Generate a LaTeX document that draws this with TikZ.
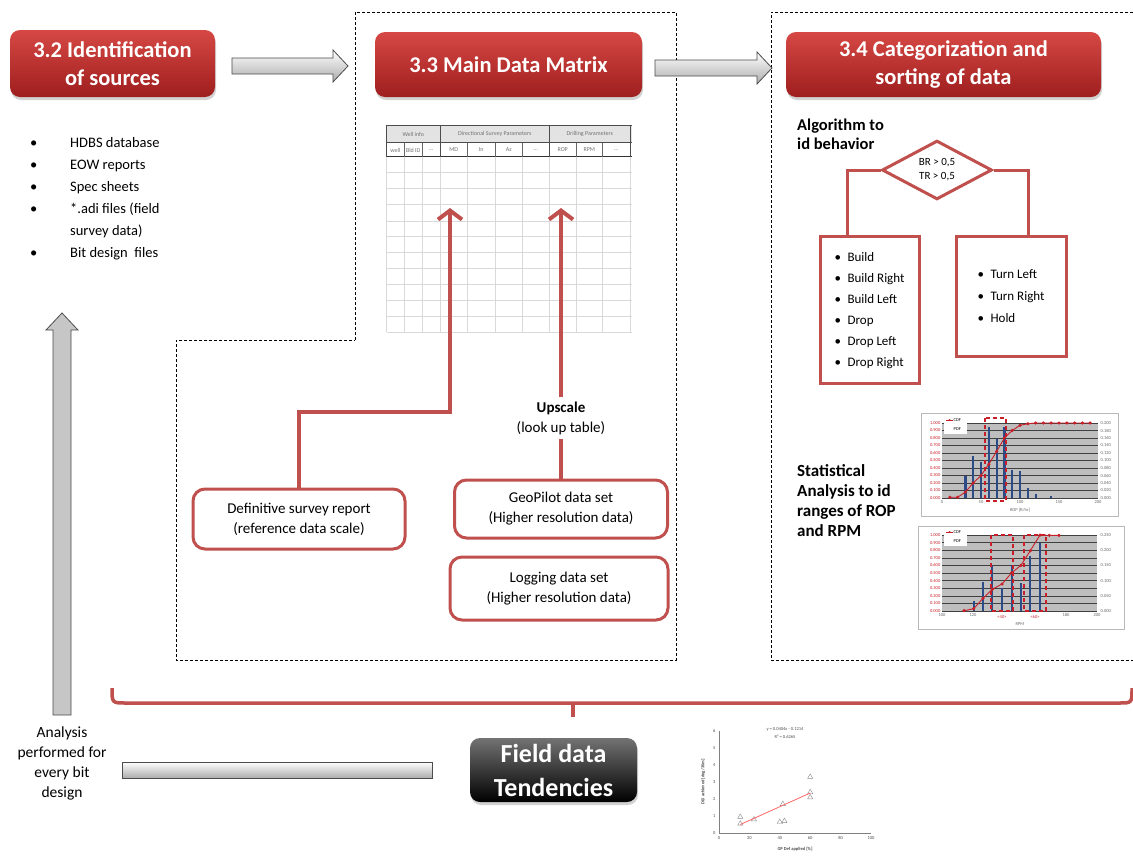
\documentclass[tikz,border=0pt]{standalone}
\usepackage{fontspec}
\setmainfont{Carlito}
\usetikzlibrary{arrows.meta,shapes.geometric,shadows}
\definecolor{rl}{RGB}{192,80,77}
\definecolor{rtop}{RGB}{214,72,68}
\definecolor{rbot}{RGB}{158,30,30}
\definecolor{barblue}{RGB}{45,75,135}
\definecolor{plotgray}{RGB}{190,190,190}
\definecolor{cdfred}{RGB}{200,30,40}
\newcommand{\myfs}[2]{\fontsize{#1}{#2}\selectfont}
\tikzset{
  titlebox/.style={rounded corners=10pt, top color=rtop, bottom color=rbot, text=white, font=\bfseries\myfs{22.5}{28}, align=center, inner sep=0pt, drop shadow={shadow xshift=1pt,shadow yshift=-3pt,opacity=0.35}},
  blackbox/.style={rounded corners=10pt, top color=black!55, middle color=black, bottom color=black, text=white, font=\bfseries\myfs{26}{34}, align=center, inner sep=0pt, drop shadow={shadow xshift=1pt,shadow yshift=-3pt,opacity=0.35}},
  redbox/.style={draw=rl, line width=3pt, rounded corners=12pt, fill=white, align=center, font=\myfs{15}{20}, inner sep=0pt},
  listbox/.style={draw=rl, line width=3pt, fill=white, font=\myfs{13}{21}, inner sep=0pt},
  redline/.style={draw=rl, line width=4pt},
  redarrow/.style={redline, -{Straight Barb[length=9pt,width=24pt]}},
  fatarrow/.style={top color=white, bottom color=gray!65, draw=black!70, line width=0.8pt},
  dashbox/.style={draw=black, line width=0.9pt, dash pattern=on 3pt off 2pt},
  plain/.style={inner sep=0pt},
  tbl/.style={font=\myfs{6}{7}, text=black!55, inner sep=0pt},
  chl/.style={font=\myfs{4.5}{5}, inner sep=0.5pt},
}
\begin{document}
\begin{tikzpicture}[x=1pt,y=-1pt]
\useasboundingbox (0,0) rectangle (1133,855);
\fill[white] (0,0) rectangle (1133,855);

% dashed regions
\draw[dashbox] (355,340) -- (355,12) -- (676,12) -- (676,660) -- (176,660) -- (176,340) -- cycle;
\draw[dashbox] (1133,12) -- (771,12) -- (771,660) -- (1133,660);

% titles
\node[titlebox, minimum width=205pt, minimum height=67pt] (s32) at (112.5,63.5) {3.2 Identification\\of sources};
\node[titlebox, minimum width=267pt, minimum height=65pt] (s33) at (508.5,64.5) {3.3 Main Data Matrix};
\node[titlebox, minimum width=315pt, minimum height=65pt] (s34) at (943.5,64.5) {3.4 Categorization and\\sorting of data};

% fat arrows
\draw[fatarrow] (232,58) -- (333,58) -- (333,50) -- (348,66) -- (333,82) -- (333,74) -- (232,74) -- cycle;
\draw[fatarrow] (655,60) -- (757,60) -- (757,52) -- (772,68) -- (757,84) -- (757,76) -- (655,76) -- cycle;
\draw[left color=gray!45, middle color=gray!12, right color=gray!45, draw=black!70, line width=0.8pt] (53,715) -- (53,330) -- (46,330) -- (62,313) -- (78,330) -- (71,330) -- (71,715) -- cycle;
\draw[fatarrow] (122,762) rectangle (432,778);

% brace
\draw[rl, line width=3.5pt] (112,688) .. controls (112,703) .. (126,703) -- (1119,703) .. controls (1132,703) .. (1132,688);
\draw[rl, line width=3.5pt] (573,703) -- (573,717);

% sources list
\node[plain, anchor=north west, font=\myfs{14.5}{22}] (src) at (30,132) {\begin{tabular}{@{}p{40pt}@{}l@{}}
\textbullet & HDBS database\\ \textbullet & EOW reports\\ \textbullet & Spec sheets\\ \textbullet & *.adi files (field\\ & survey data)\\ \textbullet & Bit design\ \ files
\end{tabular}};

\node[plain, align=center, font=\myfs{15.5}{20}] (ana) at (62,763) {Analysis\\performed for\\every bit\\design};
\node[blackbox, minimum width=167pt, minimum height=64pt] (fdt) at (553.5,770) {Field data\\Tendencies};

% table
\fill[gray!22] (386.7,125) rectangle (632,142.7);
\foreach \y in {172.7,188.3,204.3,221,236.7,252.7,268.3,284.3,300.7,316.7,332.3}
  \draw[gray!30, line width=0.6pt] (386.7,\y) -- (632,\y);
\foreach \x in {386.7,404,422.3,440,467.3,495,522.3,549.3,576,602.7,630}
  \draw[gray!30, line width=0.6pt] (\x,156.7) -- (\x,332.3);
\draw[black!70, line width=0.6pt] (386.7,125) -- (632,125);
\draw[black!70, line width=0.6pt] (386.7,142.7) -- (632,142.7);
\draw[black!80, line width=1.2pt] (386.7,156.7) -- (632,156.7);
\foreach \x in {386.7,440,549.3,630} \draw[black!70, line width=0.6pt] (\x,125) -- (\x,156.7);
\foreach \x in {404,422.3,467.3,495,522.3,576,602.7} \draw[black!60, line width=0.5pt] (\x,142.7) -- (\x,156.7);
\node[tbl] (h1) at (413.3,134) {Well info};
\node[tbl] (h2) at (494.7,134) {Directional Survey Parameters};
\node[tbl] (h3) at (589.7,134) {Drilling Parameters};
\foreach \x/\t [count=\i] in {395.3/well,413.2/Bld ID,431.2/\ldots,453.7/MD,481.2/In,508.7/Az,535.8/\ldots,562.7/ROP,589.3/RPM,616.3/\ldots}
  \node[tbl] (tc\i) at (\x,150) {\t};

% red boxes and arrows
\node[redbox, minimum width=212pt, minimum height=60pt] (def) at (299,519) {Definitive survey report\\(reference data scale)};
\node[redbox, minimum width=213pt, minimum height=58pt] (geo) at (561,509) {GeoPilot data set\\(Higher resolution data)};
\node[redbox, minimum width=218pt, minimum height=63pt] (log) at (559,588.5) {Logging data set\\(Higher resolution data)};
\node[plain, inner sep=4pt, align=center, font=\myfs{15}{20}] (up) at (561,418) {\textbf{Upscale}\\(look up table)};
\coordinate (tA) at (450,208);
\coordinate (tB) at (561,208);
\coordinate (bend) at (450,412);
\draw[redarrow] (def.north) |- (bend) -- (tA);
\draw[redline] (geo.north) -- (up.south);
\draw[redarrow] (up.north) -- (tB);

% algorithm
\node[plain, anchor=north west, align=left, font=\bfseries\myfs{16.5}{19}] (alg) at (797,119) {Algorithm to\\id behavior};
\node[diamond, draw=rl, line width=3pt, fill=white, minimum width=110pt, minimum height=55pt, inner sep=0pt, align=center, font=\myfs{11}{14}] (dia) at (937,170) {BR > 0,5\\TR > 0,5};
\node[listbox, minimum width=99pt, minimum height=147pt] (lb) at (869.5,309.5) {\begin{tabular}{@{}p{13pt}@{}l@{}}\textbullet&Build\\\textbullet&Build Right\\\textbullet&Build Left\\\textbullet&Drop\\\textbullet&Drop Left\\\textbullet&Drop Right\end{tabular}};
\node[listbox, minimum width=110pt, minimum height=120pt, font=\myfs{13}{22}] (rb) at (1011,296.5) {\begin{tabular}{@{}p{13pt}@{}l@{}}\textbullet&Turn Left\\\textbullet&Turn Right\\\textbullet&Hold\end{tabular}};
\draw[redline, line width=3pt] (dia.west) -| ([xshift=-22.5pt]lb.north);
\draw[redline, line width=3pt] (dia.east) -| ([xshift=17pt]rb.north);

\node[plain, anchor=west, align=left, font=\bfseries\myfs{17}{20}] (stat) at (797,501) {Statistical\\Analysis to id\\ranges of ROP\\and RPM};

% chart 1 (ROP)
\draw[gray!55, fill=white, line width=0.6pt] (921,413) rectangle (1118,516);
\fill[plotgray] (942,423) rectangle (1098,498);
\foreach \k in {0,...,10} \draw[black!75, line width=0.35pt] (942,{498-7.5*\k}) -- (1098,{498-7.5*\k});
\foreach \k/\l in {0/0.000,1/0.100,2/0.200,3/0.300,4/0.400,5/0.500,6/0.600,7/0.700,8/0.800,9/0.900,10/1.000}
  \node[chl, text=cdfred, anchor=east] (ca\k) at (941,{498-7.5*\k}) {\l};
\foreach \k/\l in {0/0.000,1/0.020,2/0.040,3/0.060,4/0.080,5/0.100,6/0.120,7/0.140,8/0.160,9/0.180,10/0.200}
  \node[chl, text=black!60, anchor=west] (cb\k) at (1100,{498-7.5*\k}) {\l};
\foreach \v in {0,50,100,150,200} \node[chl, text=black!60, anchor=north] (cx\v) at ({942+0.78*\v},500) {\v};
\node[chl, text=black!60] (ct) at (1020,510) {ROP [ft/hr]};
\foreach \v/\h in {30/0.29,40/0.56,50/0.48,60/0.95,70/0.79,80/0.95,90/0.38,100/0.36,110/0.13,120/0.06,140/0.03}
  \fill[barblue] ({942+0.78*\v-1.1},498) rectangle ({942+0.78*\v+1.1},{498-75*\h});
\draw[cdfred, line width=0.9pt] plot[mark=*, mark size=1.1pt] coordinates {(949.8,497.25) (957.6,497.25) (965.4,492) (973.2,483) (981,475.5) (988.8,464.25) (996.6,451.5) (1004.4,438) (1012.2,430.5) (1020,425.25) (1027.8,423.75) (1035.6,423) (1043.4,423) (1051.2,423) (1059,423) (1066.8,423) (1074.6,423) (1082.4,423) (1090.2,423)};
\draw[cdfred, line width=1.6pt, dash pattern=on 4pt off 3pt] (985,418) rectangle (1006,501);
\fill[white] (944,416) rectangle (967,434);
\draw[cdfred, line width=0.8pt] (946,420) -- (953,420);
\fill[cdfred] (949.5,420) circle (1pt);
\node[chl, anchor=west] (cl1) at (953,420) {CDF};
\node[chl, anchor=west] (cl2) at (953,429) {PDF};

% chart 2 (RPM)
\draw[gray!55, fill=white, line width=0.6pt] (918,526) rectangle (1124,629);
\fill[plotgray] (942,535) rectangle (1097,611);
\foreach \k in {0,...,10} \draw[black!75, line width=0.35pt] (942,{611-7.6*\k}) -- (1097,{611-7.6*\k});
\foreach \k/\l in {0/0.000,1/0.100,2/0.200,3/0.300,4/0.400,5/0.500,6/0.600,7/0.700,8/0.800,9/0.900,10/1.000}
  \node[chl, text=cdfred, anchor=east] (da\k) at (941,{611-7.6*\k}) {\l};
\foreach \k/\l in {0/0.000,2/0.050,4/0.100,6/0.150,8/0.200,10/0.250}
  \node[chl, text=black!60, anchor=west] (db\k) at (1100,{611-7.6*\k}) {\l};
\foreach \v in {100,120,180,200} \node[chl, text=black!60, anchor=north] (dx\v) at ({942+1.55*(\v-100)},613) {\v};
\node[chl, text=black!60] (dt) at (1020,624) {RPM};
\foreach \x/\h in {973.7/0.13,983/0.38,992.3/0.60,1002/0.30,1011.7/0.61,1021/0.37,1030.3/0.72,1040/0.90}
  \fill[barblue] ({\x-1.1},611) rectangle ({\x+1.1},{611-76*\h});
\draw[cdfred, line width=0.9pt] plot[mark=*, mark size=1.1pt] coordinates {(964,610.7) (973.7,608.7) (983,598.3) (992.3,589.3) (1002,584) (1011.7,572.7) (1021,565.3) (1030.3,550.7) (1040,535) (1049.3,535.3) (1059,535.3)};
\draw[cdfred, line width=1.6pt, dash pattern=on 4pt off 3pt] (991,535) rectangle (1013,611);
\draw[cdfred, line width=1.6pt, dash pattern=on 4pt off 3pt] (1024,535) rectangle (1046,611);
\node[chl, text=cdfred] (dr1) at (1002,617) {\textless40\textgreater};
\node[chl, text=cdfred] (dr2) at (1035,617) {\textless60\textgreater};
\fill[white] (944,528) rectangle (967,546);
\draw[cdfred, line width=0.8pt] (946,532) -- (953,532);
\fill[cdfred] (949.5,532) circle (1pt);
\node[chl, anchor=west] (dl1) at (953,532) {CDF};
\node[chl, anchor=west] (dl2) at (953,541) {PDF};

% scatter plot
\draw[black!50, line width=0.5pt] (719,731) -- (719,833) -- (871,833);
\foreach \k in {0,...,6} \node[chl, anchor=east, text=black!70] (sy\k) at (716,{833-17*\k}) {\k};
\foreach \v in {0,20,40,60,80,100} \node[chl, anchor=north, text=black!70] (sx\v) at ({719+1.52*\v},836) {\v};
\foreach \v/\w [count=\i] in {14/0.95,14/0.55,23/0.8,40/0.65,43/0.7,42/1.7,60/3.3,60/2.4,60/2.1}
  \node[regular polygon, regular polygon sides=3, draw=black!45, line width=0.4pt, minimum size=6pt, inner sep=0pt] (pt\i) at ({719+1.52*\v},{833-17*\w}) {};
\draw[red!60, line width=0.8pt] (740.3,824.5) -- (810.2,793);
\node[chl, text=black!70] (eq) at (785,729) {y = 0.0404x - 0.1214};
\node[chl, text=black!70] (r2) at (785,737) {R² = 0.6265};
\node[chl, text=black!70, rotate=90, font=\bfseries\myfs{4.5}{5}] (yl) at (703,782) {DLS achieved [deg/30m]};
\node[chl, font=\bfseries\myfs{4.5}{5}, text=black!70] (xl) at (795,849) {GP Def applied [\%]};
\end{tikzpicture}
\end{document}
